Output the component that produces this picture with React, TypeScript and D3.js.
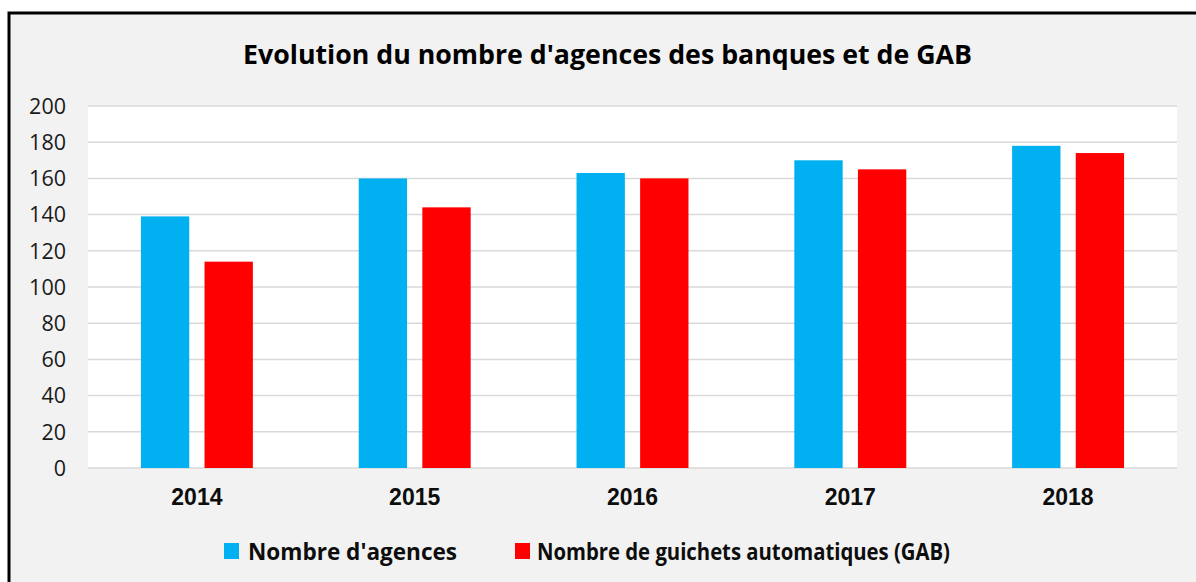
import React from 'react';
import * as d3 from 'd3';

const years = ['2014', '2015', '2016', '2017', '2018'];
const agences = [139, 160, 163, 170, 178];
const gab = [114, 144, 160, 165, 174];
const seriesNames = ["Nombre d'agences", 'Nombre de guichets automatiques (GAB)'];
const seriesColors = ['#00b0f0', '#ff0000'];
const yTicks = [0, 20, 40, 60, 80, 100, 120, 140, 160, 180, 200];

export default function App() {
  const width = 1196;
  const height = 582;
  const plot = { left: 88, right: 1177, top: 106, bottom: 468 };

  const x0 = d3.scaleBand()
    .domain(years)
    .range([plot.left, plot.right])
    .paddingInner(0.486)
    .paddingOuter(0.243);

  const x1 = d3.scaleBand()
    .domain(['0', '1'])
    .range([0, x0.bandwidth()])
    .paddingInner(0.24);

  const y = d3.scaleLinear().domain([0, 200]).range([plot.bottom, plot.top]);

  const data = [agences, gab];

  return (
    <svg width={width} height={height} style={{ position: 'absolute', left: 0, top: 0 }}>
      <rect x={0} y={0} width={width} height={height} fill="#ffffff" />
      <rect x={9} y={13} width={1220} height={620} fill="#f2f2f2" stroke="#000" strokeWidth={3} />

      <text
        x={607.5}
        y={64}
        textAnchor="middle"
        fontFamily="'Open Sans', sans-serif"
        fontWeight={700}
        fontSize={27}
        textLength={729}
        lengthAdjust="spacingAndGlyphs"
        fill="#000"
      >
        Evolution du nombre d'agences des banques et de GAB
      </text>

      <rect x={plot.left} y={plot.top} width={plot.right - plot.left} height={plot.bottom - plot.top} fill="#fff" />

      {yTicks.map((t) => (
        <g key={t}>
          <line x1={plot.left} x2={plot.right} y1={y(t)} y2={y(t)} stroke="#d9d9d9" strokeWidth={1.5} />
          <text
            x={66}
            y={y(t)}
            dy="0.36em"
            textAnchor="end"
            fontFamily="'Open Sans', sans-serif"
            fontSize={21.5}
            fill="#1a1a1a"
          >
            {t}
          </text>
        </g>
      ))}

      {years.map((yr, i) => (
        <g key={yr} transform={`translate(${x0(yr)},0)`}>
          {data.map((s, j) => (
            <rect
              key={j}
              x={x1(String(j))}
              y={y(s[i])}
              width={x1.bandwidth()}
              height={y(0) - y(s[i])}
              fill={seriesColors[j]}
            />
          ))}
          <text
            x={x0.bandwidth() / 2}
            y={497}
            dy="0.36em"
            textAnchor="middle"
            fontFamily="'Liberation Sans', Arial, sans-serif"
            fontWeight={700}
            fontSize={23}
            fill="#0d0d0d"
          >
            {yr}
          </text>
        </g>
      ))}

      <g>
        <rect x={224} y={543} width={15} height={16} fill={seriesColors[0]} />
        <text
          x={248}
          y={551}
          dy="0.36em"
          fontFamily="'Open Sans', sans-serif"
          fontWeight={700}
          fontSize={24}
          textLength={209}
          lengthAdjust="spacingAndGlyphs"
          fill="#0d0d0d"
        >
          {seriesNames[0]}
        </text>
        <rect x={515} y={543} width={15} height={16} fill={seriesColors[1]} />
        <text
          x={537}
          y={551}
          dy="0.36em"
          fontFamily="'Open Sans', sans-serif"
          fontWeight={700}
          fontSize={24}
          textLength={413}
          lengthAdjust="spacingAndGlyphs"
          fill="#0d0d0d"
        >
          {seriesNames[1]}
        </text>
      </g>
    </svg>
  );
}
